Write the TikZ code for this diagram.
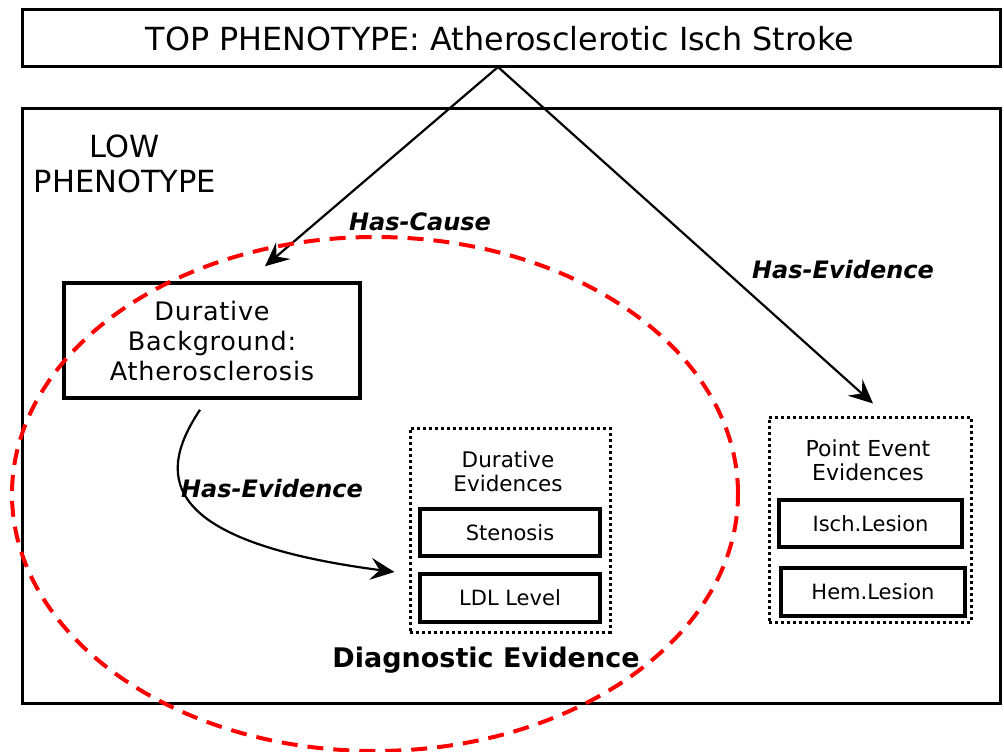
\documentclass[tikz,border=0pt]{standalone}
\usepackage{fontspec}
\setmainfont{DejaVu Sans}
\usetikzlibrary{arrows.meta}
\begin{document}
\begin{tikzpicture}[x=1pt,y=-1pt,
  solidbox/.style={draw, line width=3.5pt, inner sep=0pt, align=center},
  framebox/.style={draw, line width=3pt, inner sep=0pt},
  dotbox/.style={draw, line width=3pt, dash pattern=on 3pt off 3pt, inner sep=0pt},
  rel/.style={font=\fontsize{24}{28}\selectfont\bfseries\itshape},
  link/.style={line width=2.2pt, -{Stealth[length=24pt,width=22pt,inset=9pt]}},
  title/.style={align=center, inner sep=0pt}]
\useasboundingbox (0,0) rectangle (1004,752);

% top phenotype
\node[framebox, minimum width=978pt, minimum height=57pt] (top) at (511,38.5) {};
\node[inner sep=0pt, font=\fontsize{31.8}{36}\selectfont] (toplab) at (500,38.5)
      {TOP PHENOTYPE: Atherosclerotic Isch Stroke};

% low phenotype frame
\node[framebox, minimum width=978pt, minimum height=595pt] (low) at (511,405.5) {};
\node[title, font=\fontsize{30.5}{35}\selectfont] (lowlab) at (125,164) {LOW\\PHENOTYPE};

% durative background
\node[solidbox, minimum width=296pt, minimum height=115pt,
      font=\fontsize{25.5}{30}\selectfont\addfontfeatures{LetterSpace=3}] (bg) at (212,340.5)
      {Durative\\Background:\\Atherosclerosis};

% durative evidences
\node[dotbox, minimum width=200pt, minimum height=204pt] (de) at (510,530) {};
\node[title, font=\fontsize{21.5}{24}\selectfont] (delab) at (508,471) {Durative\\Evidences};
\node[solidbox, minimum width=180pt, minimum height=47pt,
      font=\fontsize{21}{24}\selectfont] (sten) at (510,532.5) {Stenosis};
\node[solidbox, minimum width=180pt, minimum height=48pt,
      font=\fontsize{21}{24}\selectfont] (ldl) at (510,598) {LDL Level};

% point event evidences
\node[dotbox, minimum width=202pt, minimum height=205pt] (pe) at (870,519.5) {};
\node[title, font=\fontsize{22}{24}\selectfont] (pelab) at (868,460) {Point Event\\Evidences};
\node[solidbox, minimum width=183pt, minimum height=47pt,
      font=\fontsize{21}{24}\selectfont] (isch) at (870.5,523.5) {Isch.Lesion};
\node[solidbox, minimum width=184pt, minimum height=48pt,
      font=\fontsize{21}{24}\selectfont] (hem) at (873,592) {Hem.Lesion};

\node[font=\fontsize{27}{30}\selectfont\bfseries, inner sep=0pt] (diag) at (486,660)
      {Diagnostic Evidence};

% relations
\coordinate (apex) at (498,67);
\draw[link] (apex) -- ([xshift=53pt,yshift=15pt]bg.north);
\draw[link] (apex) -- ([xshift=3pt,yshift=12pt]pe.north);
\draw[link] ([xshift=-12pt,yshift=-10pt]bg.south)
      .. controls (160,470) and (150,540) .. ([xshift=-14pt,yshift=-42pt]de.west);

\node[rel, inner sep=0pt] (cause) at (420,222) {Has-Cause};
\node[rel, inner sep=0pt] (evr) at (843,270) {Has-Evidence};
\node[rel, inner sep=0pt] (evl) at (272,489) {Has-Evidence};

% diagnostic evidence region
\draw[red, line width=4pt, dash pattern=on 16pt off 10pt]
      (375,494) ellipse [x radius=363pt, y radius=257pt];
\end{tikzpicture}
\end{document}
